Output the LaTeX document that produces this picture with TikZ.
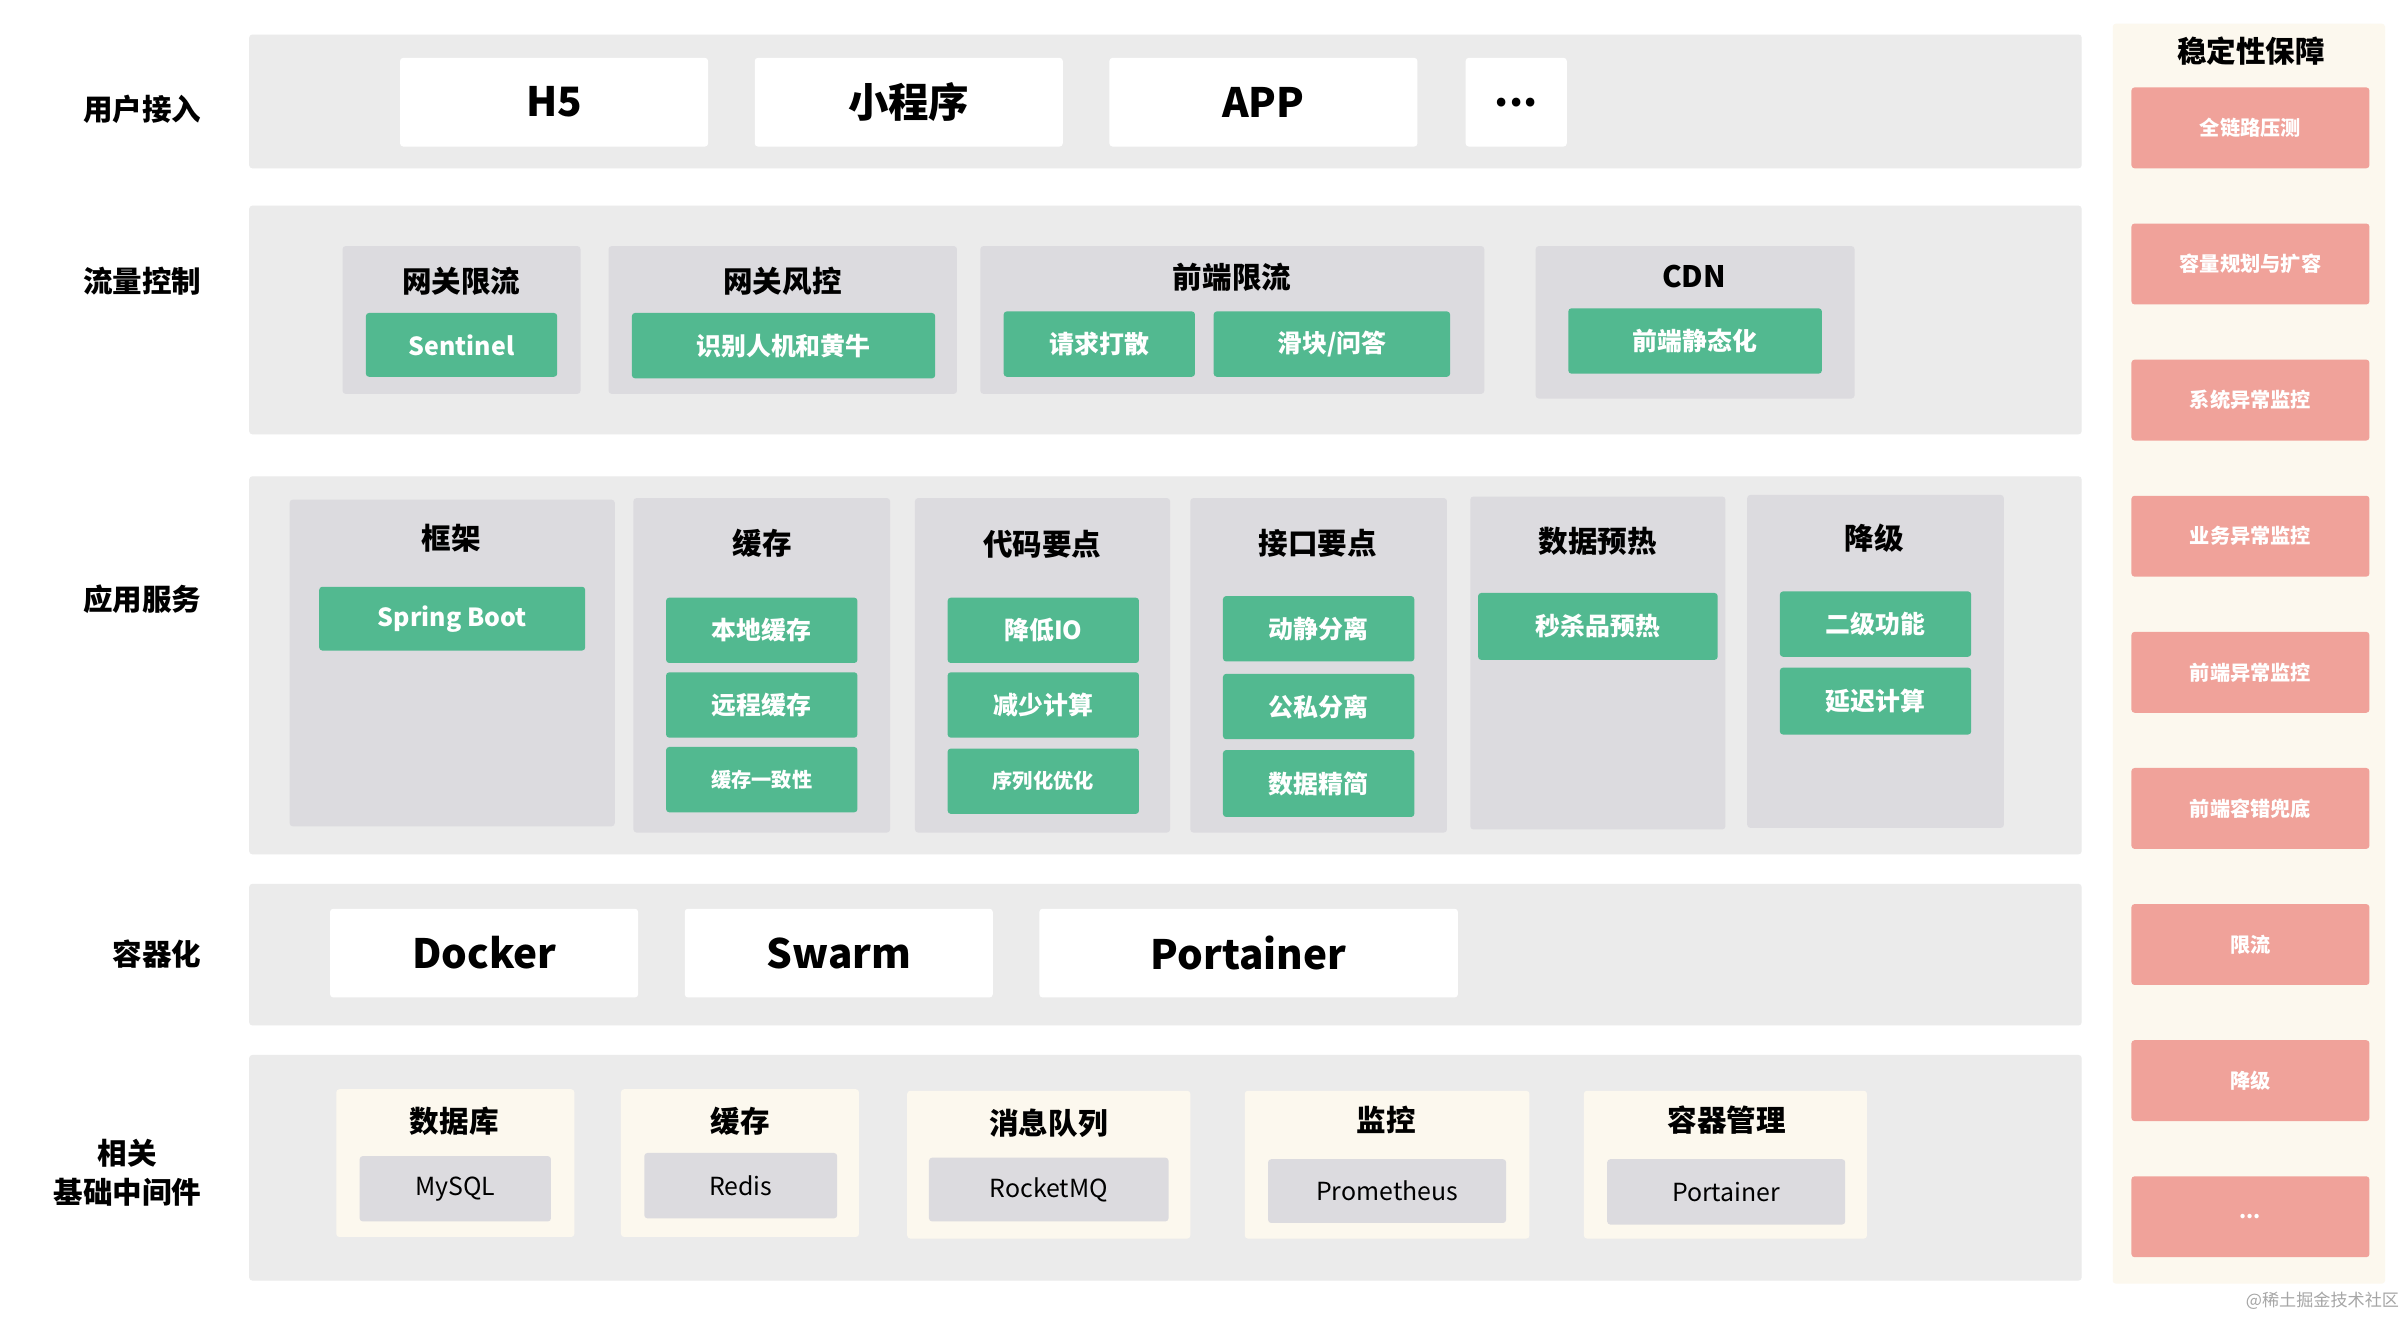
\documentclass[tikz,border=0pt]{standalone}
\usepackage{fontspec}
\newfontfamily\cjk{Noto Sans CJK SC}
\usepackage{tikz}
\definecolor{rowgray}{HTML}{EBEBEB}
\definecolor{grpgray}{HTML}{DCDBDF}
\definecolor{btngreen}{HTML}{52B990}
\definecolor{btnpink}{HTML}{F0A29A}
\definecolor{cream}{HTML}{FCF8EE}
\def\fsz#1{\cjk\fontsize{#1}{#1}\selectfont}
\tikzset{
	box/.style={anchor=north west, inner sep=0pt, rounded corners=2pt},
	rowbg/.style={box, fill=rowgray},
	grpbox/.style={box, fill=grpgray},
	creambox/.style={box, fill=cream},
	whitebox/.style={box, fill=white, font=\fsz{26}\bfseries},
	greenbtn/.style={box, fill=btngreen, text=white, font=\fsz{16}\bfseries},
	pinkbtn/.style={box, fill=btnpink, text=white, font=\fsz{13}\bfseries, minimum width=153, minimum height=52},
	graybtn/.style={box, fill=grpgray, font=\fsz{16}},
	title/.style={font=\fsz{19}\bfseries},
	rowlabel/.style={anchor=east, align=center, font=\fsz{19}\bfseries}
}
\begin{document}
\begin{tikzpicture}[x=1pt, y=-1pt]
			%%%%% START %%%%%
			\useasboundingbox[fill=white] (0,0) rectangle (1548,854);
			
			%%%%% rows %%%%%
			\node[rowbg, minimum width=1178, minimum height=86] (r1) at (160,22) {};
			\node[rowbg, minimum width=1178, minimum height=147] (r2) at (160,132) {};
			\node[rowbg, minimum width=1178, minimum height=243] (r3) at (160,306) {};
			\node[rowbg, minimum width=1178, minimum height=91] (r4) at (160,568) {};
			\node[rowbg, minimum width=1178, minimum height=145] (r5) at (160,678) {};
			
			\node[rowlabel] (l1) at (133,70) {用户接入};
			\node[rowlabel] (l2) at (133,181) {流量控制};
			\node[rowlabel] (l3) at (133,385) {应用服务};
			\node[rowlabel] (l4) at (133,613) {容器化};
			\node[rowlabel] (l5) at (133,754) {相关\\[6pt]基础中间件};
			
			%%%%% user access %%%%%
			\node[whitebox, minimum width=198, minimum height=57] (h5) at (257,37) {H5};
			\node[whitebox, minimum width=198, minimum height=57] (mini) at (485,37) {小程序};
			\node[whitebox, minimum width=198, minimum height=57] (app) at (713,37) {APP};
			\node[whitebox, minimum width=65, minimum height=57] (more) at (942,37) {...};
			
			%%%%% traffic control %%%%%
			\node[grpbox, minimum width=153, minimum height=95] (gw) at (220,158) {};
			\node[title] (gw-t) at (296.5,181) {网关限流};
			\node[greenbtn, minimum width=123, minimum height=41] (sentinel) at (235,201) {Sentinel};
			
			\node[grpbox, minimum width=224, minimum height=95] (risk) at (391,158) {};
			\node[title] (risk-t) at (503,181) {网关风控};
			\node[greenbtn, minimum width=195, minimum height=42] (bot) at (406,201) {识别人机和黄牛};
			
			\node[grpbox, minimum width=324, minimum height=95] (fe) at (630,158) {};
			\node[title] (fe-t) at (792,178) {前端限流};
			\node[greenbtn, minimum width=123, minimum height=42] (scatter) at (645,200) {请求打散};
			\node[greenbtn, minimum width=152, minimum height=42] (slider) at (780,200) {滑块/问答};
			
			\node[grpbox, minimum width=205, minimum height=98] (cdn) at (987,158) {};
			\node[title] (cdn-t) at (1089,178) {CDN};
			\node[greenbtn, minimum width=163, minimum height=42] (static) at (1008,198) {前端静态化};
			
			%%%%% application %%%%%
			\node[grpbox, minimum width=209, minimum height=210] (frame) at (186,321) {};
			\node[title] (frame-t) at (290,346) {框架};
			\node[greenbtn, minimum width=171, minimum height=41] (spring) at (205,377) {Spring Boot};
			
			\node[grpbox, minimum width=165, minimum height=215] (cache) at (407,320) {};
			\node[title] (cache-t) at (490,349) {缓存};
			\node[greenbtn, minimum width=123, minimum height=42] (local) at (428,384) {本地缓存};
			\node[greenbtn, minimum width=123, minimum height=42] (remote) at (428,432) {远程缓存};
			\node[greenbtn, minimum width=123, minimum height=42, font=\fsz{13}\bfseries] (consist) at (428,480) {缓存一致性};
			
			\node[grpbox, minimum width=164, minimum height=215] (code) at (588,320) {};
			\node[title] (code-t) at (670,350) {代码要点};
			\node[greenbtn, minimum width=123, minimum height=42] (io) at (609,384) {降低IO};
			\node[greenbtn, minimum width=123, minimum height=42] (calc) at (609,432) {减少计算};
			\node[greenbtn, minimum width=123, minimum height=42, font=\fsz{13}\bfseries] (serial) at (609,481) {序列化优化};
			
			\node[grpbox, minimum width=165, minimum height=215] (api) at (765,320) {};
			\node[title] (api-t) at (847,349) {接口要点};
			\node[greenbtn, minimum width=123, minimum height=42] (dyn) at (786,383) {动静分离};
			\node[greenbtn, minimum width=123, minimum height=42] (pub) at (786,433) {公私分离};
			\node[greenbtn, minimum width=123, minimum height=43] (slim) at (786,482) {数据精简};
			
			\node[grpbox, minimum width=164, minimum height=214] (warm) at (945,319) {};
			\node[title] (warm-t) at (1027,348) {数据预热};
			\node[greenbtn, minimum width=154, minimum height=43] (seckill) at (950,381) {秒杀品预热};
			
			\node[grpbox, minimum width=165, minimum height=214] (degrade) at (1123,318) {};
			\node[title] (degrade-t) at (1205,346) {降级};
			\node[greenbtn, minimum width=123, minimum height=42] (second) at (1144,380) {二级功能};
			\node[greenbtn, minimum width=123, minimum height=43] (delay) at (1144,429) {延迟计算};
			
			%%%%% containers %%%%%
			\node[whitebox, minimum width=198, minimum height=57] (docker) at (212,584) {Docker};
			\node[whitebox, minimum width=198, minimum height=57] (swarm) at (440,584) {Swarm};
			\node[whitebox, minimum width=269, minimum height=57] (portainer) at (668,584) {Portainer};
			
			%%%%% middleware %%%%%
			\node[creambox, minimum width=153, minimum height=95] (db) at (216,700) {};
			\node[title] (db-t) at (292,721) {数据库};
			\node[graybtn, minimum width=123, minimum height=42] (mysql) at (231,743) {MySQL};
			
			\node[creambox, minimum width=153, minimum height=95] (mcache) at (399,700) {};
			\node[title] (mcache-t) at (476,721) {缓存};
			\node[graybtn, minimum width=124, minimum height=42] (redis) at (414,741) {Redis};
			
			\node[creambox, minimum width=182, minimum height=95] (mq) at (583,701) {};
			\node[title] (mq-t) at (674,722) {消息队列};
			\node[graybtn, minimum width=154, minimum height=41] (rocket) at (597,744) {RocketMQ};
			
			\node[creambox, minimum width=183, minimum height=95] (mon) at (800,701) {};
			\node[title] (mon-t) at (891,720) {监控};
			\node[graybtn, minimum width=153, minimum height=41] (prom) at (815,745) {Prometheus};
			
			\node[creambox, minimum width=182, minimum height=95] (cm) at (1018,701) {};
			\node[title] (cm-t) at (1110,720) {容器管理};
			\node[graybtn, minimum width=153, minimum height=42] (mport) at (1033,745) {Portainer};
			
			%%%%% stability %%%%%
			\node[creambox, minimum width=175, minimum height=810] (stab) at (1358,15) {};
			\node[title] (stab-t) at (1447,33) {稳定性保障};
			\foreach \lbl [count=\i] in {全链路压测, 容量规划与扩容, 系统异常监控, 业务异常监控, 前端异常监控, 前端容错兜底, 限流, 降级}
				\node[pinkbtn] (s\i) at (1370, {56+(\i-1)*87.5}) {\lbl};
			\node[pinkbtn] (s9) at (1370,756) {...};
			
			\node[text=black!35, font=\fsz{11}] (mark) at (1493,836) {@稀土掘金技术社区};
			%%%%% END %%%%%
\end{tikzpicture}
\end{document}
